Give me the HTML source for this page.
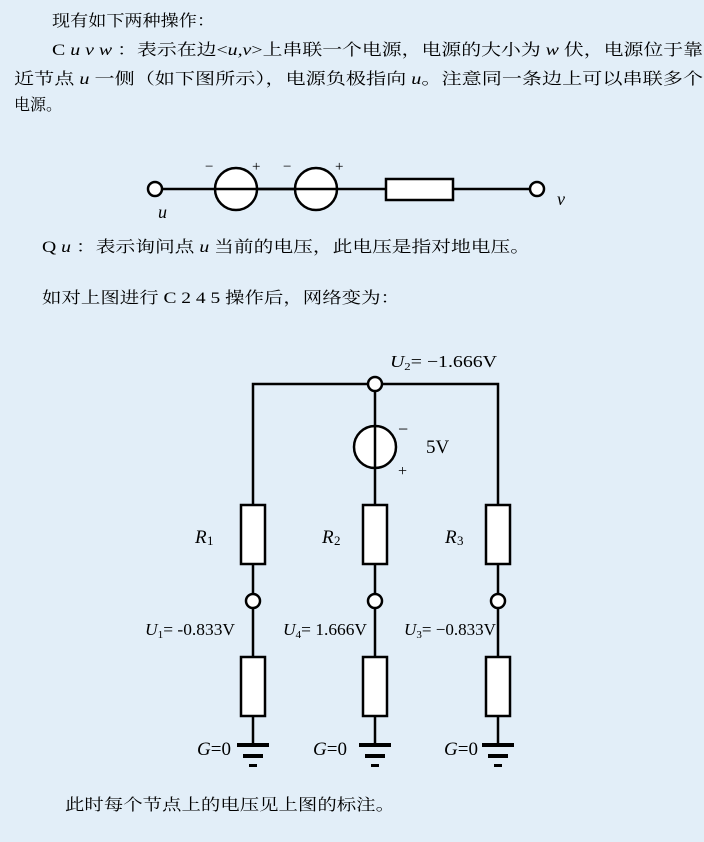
<!DOCTYPE html>
<html><head><meta charset="utf-8"><style>
html,body{margin:0;padding:0;background:#e2eef8;}
svg{display:block;font-size:16px;}
text{font-family:"Liberation Serif","Noto Serif CJK SC","Noto Sans CJK SC",serif;fill:#000;}
.i{font-style:italic;}
</style></head><body>
<svg width="704" height="842" viewBox="0 0 704 842" xmlns="http://www.w3.org/2000/svg">
<rect width="704" height="842" fill="#e2eef8"/>
<text x="52" y="26" textLength="163" lengthAdjust="spacingAndGlyphs">现有如下两种操作：</text>
<text x="52" y="55" textLength="651" lengthAdjust="spacingAndGlyphs">C <tspan class="i">u v w</tspan> ：表示在边&lt;<tspan class="i">u,v</tspan>&gt;上串联一个电源，电源的大小为 <tspan class="i">w</tspan> 伏，电源位于靠</text>
<text x="14" y="84" textLength="689" lengthAdjust="spacingAndGlyphs">近节点 <tspan class="i">u</tspan> 一侧（如下图所示），电源负极指向 <tspan class="i">u</tspan>。注意同一条边上可以串联多个</text>
<text x="14" y="110">电源。</text>

<g stroke="#000" stroke-width="2.5" fill="#fff">
<line x1="155" y1="189" x2="537" y2="189"/>
<circle cx="236" cy="189" r="21"/><circle cx="316" cy="189" r="21"/>
<line x1="215" y1="189" x2="337" y2="189"/>
<rect x="386" y="179" width="67" height="21"/>
<circle cx="155" cy="189" r="7"/><circle cx="537" cy="189" r="7"/>
</g>
<text x="205" y="171" font-size="15">−</text><text x="252" y="171" font-size="15">+</text>
<text x="283" y="171" font-size="15">−</text><text x="335" y="171" font-size="15">+</text>
<text x="158" y="218" class="i" font-size="18">u</text><text x="557" y="205" class="i" font-size="18">v</text>

<text x="42" y="252" textLength="488" lengthAdjust="spacingAndGlyphs">Q <tspan class="i">u</tspan> ：表示询问点 <tspan class="i">u</tspan> 当前的电压，此电压是指对地电压。</text>
<text x="42" y="303" textLength="358" lengthAdjust="spacingAndGlyphs">如对上图进行 C 2 4 5 操作后，网络变为：</text>

<g stroke="#000" stroke-width="2.5" fill="#fff">
<polyline points="253,505 253,384 498,384 498,505" fill="none"/>
<line x1="375" y1="384" x2="375" y2="505"/>
<circle cx="375" cy="447" r="21"/>
<line x1="375" y1="426" x2="375" y2="468"/>
<line x1="253" y1="564" x2="253" y2="744"/>
<line x1="375" y1="564" x2="375" y2="744"/>
<line x1="498" y1="564" x2="498" y2="744"/>
<rect x="241" y="505" width="24" height="59"/><rect x="363" y="505" width="24" height="59"/><rect x="486" y="505" width="24" height="59"/>
<rect x="241" y="657" width="24" height="59"/><rect x="363" y="657" width="24" height="59"/><rect x="486" y="657" width="24" height="59"/>
<circle cx="375" cy="384" r="7"/>
<circle cx="253" cy="601" r="7"/><circle cx="375" cy="601" r="7"/><circle cx="498" cy="601" r="7"/>
</g>
<g fill="#000">
<rect x="237" y="743" width="32" height="4"/><rect x="243" y="754" width="20" height="4"/><rect x="249" y="764" width="8" height="3"/>
<rect x="359" y="743" width="32" height="4"/><rect x="365" y="754" width="20" height="4"/><rect x="371" y="764" width="8" height="3"/>
<rect x="482" y="743" width="32" height="4"/><rect x="488" y="754" width="20" height="4"/><rect x="494" y="764" width="8" height="3"/>
</g>
<text x="390" y="367" font-size="17" textLength="107" lengthAdjust="spacingAndGlyphs"><tspan class="i">U</tspan><tspan font-size="11" dy="3">2</tspan><tspan dy="-3">= −1.666V</tspan></text>
<text x="398" y="435" font-size="18">−</text><text x="398" y="476" font-size="16">+</text>
<text x="426" y="453" font-size="19">5V</text>
<text x="195" y="543" class="i" font-size="19">R</text><text x="207" y="545" font-size="13">1</text>
<text x="322" y="543" class="i" font-size="19">R</text><text x="334" y="545" font-size="13">2</text>
<text x="445" y="543" class="i" font-size="19">R</text><text x="457" y="545" font-size="13">3</text>
<text x="145" y="635" font-size="17" textLength="90" lengthAdjust="spacingAndGlyphs"><tspan class="i">U</tspan><tspan font-size="11" dy="3">1</tspan><tspan dy="-3">= -0.833V</tspan></text>
<text x="283" y="635" font-size="17" textLength="84" lengthAdjust="spacingAndGlyphs"><tspan class="i">U</tspan><tspan font-size="11" dy="3">4</tspan><tspan dy="-3">= 1.666V</tspan></text>
<text x="404" y="635" font-size="17" textLength="92" lengthAdjust="spacingAndGlyphs"><tspan class="i">U</tspan><tspan font-size="11" dy="3">3</tspan><tspan dy="-3">= −0.833V</tspan></text>
<text x="197" y="755" font-size="19"><tspan class="i">G</tspan>=0</text>
<text x="313" y="755" font-size="19"><tspan class="i">G</tspan>=0</text>
<text x="444" y="755" font-size="19"><tspan class="i">G</tspan>=0</text>
<text x="65" y="810" textLength="330" lengthAdjust="spacingAndGlyphs">此时每个节点上的电压见上图的标注。</text>
</svg>
</body></html>
